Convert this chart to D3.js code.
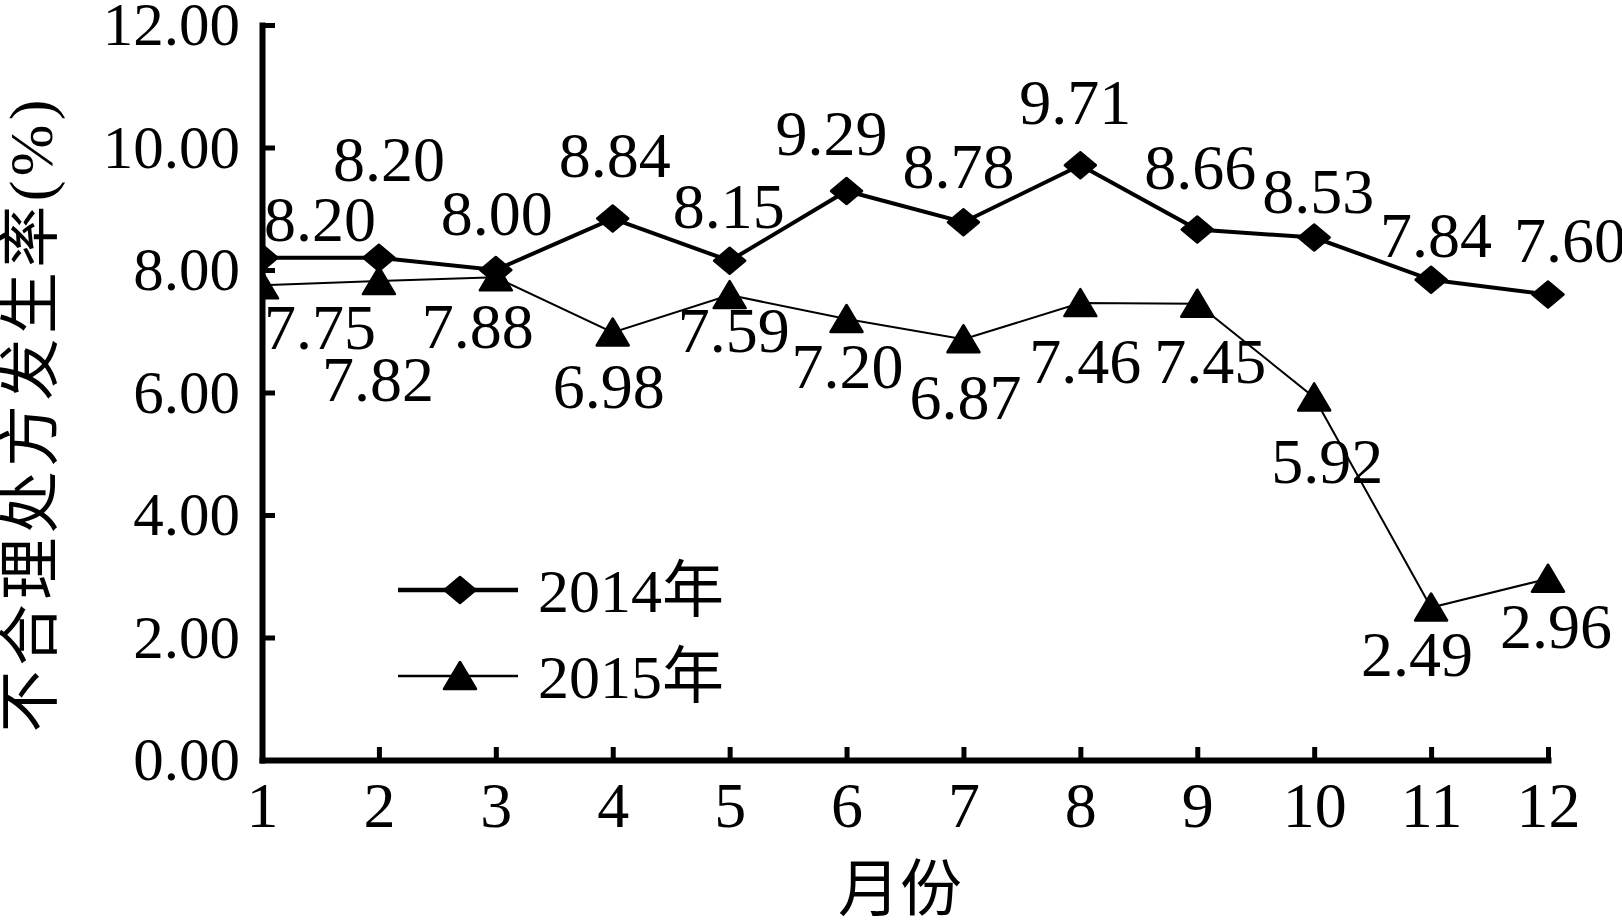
<!DOCTYPE html>
<html>
<head>
<meta charset="utf-8">
<script src="https://cdn.jsdelivr.net/npm/d3@7"></script>
<style>
  html, body { margin: 0; padding: 0; background: #fff; }
  svg { display: block; }
  text { fill: #000; font-family: "Liberation Serif", "Noto Sans CJK SC", serif; }
</style>
</head>
<body>
<svg id="chart"></svg>
<script>
// data
const months = [1, 2, 3, 4, 5, 6, 7, 8, 9, 10, 11, 12];
const rate2014 = [8.20, 8.20, 8.00, 8.84, 8.15, 9.29, 8.78, 9.71, 8.66, 8.53, 7.84, 7.60];
const rate2015 = [7.75, 7.82, 7.88, 6.98, 7.59, 7.20, 6.87, 7.46, 7.45, 5.92, 2.49, 2.96];
const seriesNames = ['2014年', '2015年'];
const yTicks = [0, 2, 4, 6, 8, 10, 12];

// label placement (pixel offsets of label centre from its point)
const offsets2014 = [[58, -38], [10, -98], [1, -56], [2, -63], [-1, -54], [-15, -57],
  [-5, -55], [-5, -62], [3, -62], [4, -46], [5, -44], [22, -54]];
const offsets2015 = [[58, 43], [-1, 99], [-18, 50], [-4, 55], [4, 36], [1, 48],
  [2, 59], [5, 59], [13, 58], [13, 65], [-14, 48], [8, 48]];

const width = 1622;
const height = 920;
const margin = { left: 262, right: 74, top: 25, bottom: 160 };

const svg = d3.select('#chart')
  .attr('width', width)
  .attr('height', height);

const x = d3.scaleLinear()
  .domain([1, 12])
  .range([margin.left, width - margin.right]);

const y = d3.scaleLinear()
  .domain([0, 12])
  .range([height - margin.bottom, margin.top]);

// clip markers at the y axis (month 1 markers are cut by the axis)
svg.append('defs').append('clipPath')
  .attr('id', 'plotClip')
  .append('rect')
  .attr('x', margin.left)
  .attr('y', 0)
  .attr('width', width - margin.left)
  .attr('height', height);

// axes
const yAxis = d3.axisLeft(y)
  .tickValues(yTicks)
  .tickFormat(d3.format('.2f'))
  .tickSizeInner(-13)
  .tickSizeOuter(0)
  .tickPadding(22);

const xAxis = d3.axisBottom(x)
  .tickValues(months)
  .tickFormat(d3.format('d'))
  .tickSizeInner(-13)
  .tickSizeOuter(0)
  .tickPadding(22);

const gy = svg.append('g')
  .attr('transform', 'translate(' + margin.left + ',0)')
  .call(yAxis);

const gx = svg.append('g')
  .attr('transform', 'translate(0,' + (height - margin.bottom) + ')')
  .call(xAxis);

[gx, gy].forEach(function (g) {
  g.select('.domain')
    .attr('stroke', '#000')
    .attr('stroke-width', 6)
    .attr('stroke-linecap', 'square');
  g.selectAll('.tick line')
    .attr('stroke', '#000')
    .attr('stroke-width', 5);
  g.selectAll('.tick text')
    .attr('fill', '#000')
    .style('font-family', '"Liberation Serif", serif');
});
gy.selectAll('.tick text').style('font-size', '61px');
gx.selectAll('.tick text').style('font-size', '64px');

// axis titles
svg.append('text')
  .attr('transform', 'translate(31,' + 416 + ') rotate(-90)')
  .attr('text-anchor', 'middle')
  .attr('dominant-baseline', 'central')
  .attr('textLength', 633)
  .attr('lengthAdjust', 'spacing')
  .style('font-size', '62px')
  .text('不合理处方发生率(%)');

svg.append('text')
  .attr('x', 900)
  .attr('y', 884)
  .attr('text-anchor', 'middle')
  .attr('dominant-baseline', 'central')
  .style('font-family', '"Noto Sans CJK SC", sans-serif')
  .style('font-size', '62px')
  .text('月份');

// series
const diamond = 'M0,-13L15.5,0L0,13L-15.5,0Z';
const triangle = 'M0,-14L16,13L-16,13Z';

const series = [
  { name: seriesNames[0], values: rate2014, offsets: offsets2014, lineWidth: 4, marker: diamond },
  { name: seriesNames[1], values: rate2015, offsets: offsets2015, lineWidth: 2, marker: triangle }
];

const line = d3.line()
  .x(function (d, i) { return x(months[i]); })
  .y(function (d) { return y(d); });

series.forEach(function (s) {
  svg.append('path')
    .datum(s.values)
    .attr('fill', 'none')
    .attr('stroke', '#000')
    .attr('stroke-width', s.lineWidth)
    .attr('d', line);

  svg.append('g')
    .attr('clip-path', 'url(#plotClip)')
    .selectAll('path')
    .data(s.values)
    .enter()
    .append('path')
    .attr('d', s.marker)
    .attr('transform', function (d, i) {
      return 'translate(' + x(months[i]) + ',' + y(d) + ')';
    })
    .attr('fill', '#000')
    .attr('stroke', '#000')
    .attr('stroke-width', 2.5)
    .attr('stroke-linejoin', 'round');

  svg.append('g')
    .selectAll('text')
    .data(s.values)
    .enter()
    .append('text')
    .attr('x', function (d, i) { return x(months[i]) + s.offsets[i][0]; })
    .attr('y', function (d, i) { return y(d) + s.offsets[i][1] + 21; })
    .attr('text-anchor', 'middle')
    .style('font-size', '64px')
    .text(function (d) { return d3.format('.2f')(d); });
});

// legend
const legend = svg.append('g')
  .selectAll('g')
  .data(series)
  .enter()
  .append('g')
  .attr('transform', function (d, i) {
    return 'translate(398,' + (590 + i * 86) + ')';
  });

legend.append('line')
  .attr('x1', 0)
  .attr('x2', 120)
  .attr('stroke', '#000')
  .attr('stroke-width', function (d) { return d.lineWidth + 0.5; });

legend.append('path')
  .attr('d', function (d) { return d.marker; })
  .attr('transform', 'translate(62,0)')
  .attr('fill', '#000')
  .attr('stroke', '#000')
  .attr('stroke-width', 2.5)
  .attr('stroke-linejoin', 'round');

legend.append('text')
  .attr('x', 140)
  .attr('y', 22)
  .style('font-size', '62px')
  .text(function (d) { return d.name; });
</script>
</body>
</html>
